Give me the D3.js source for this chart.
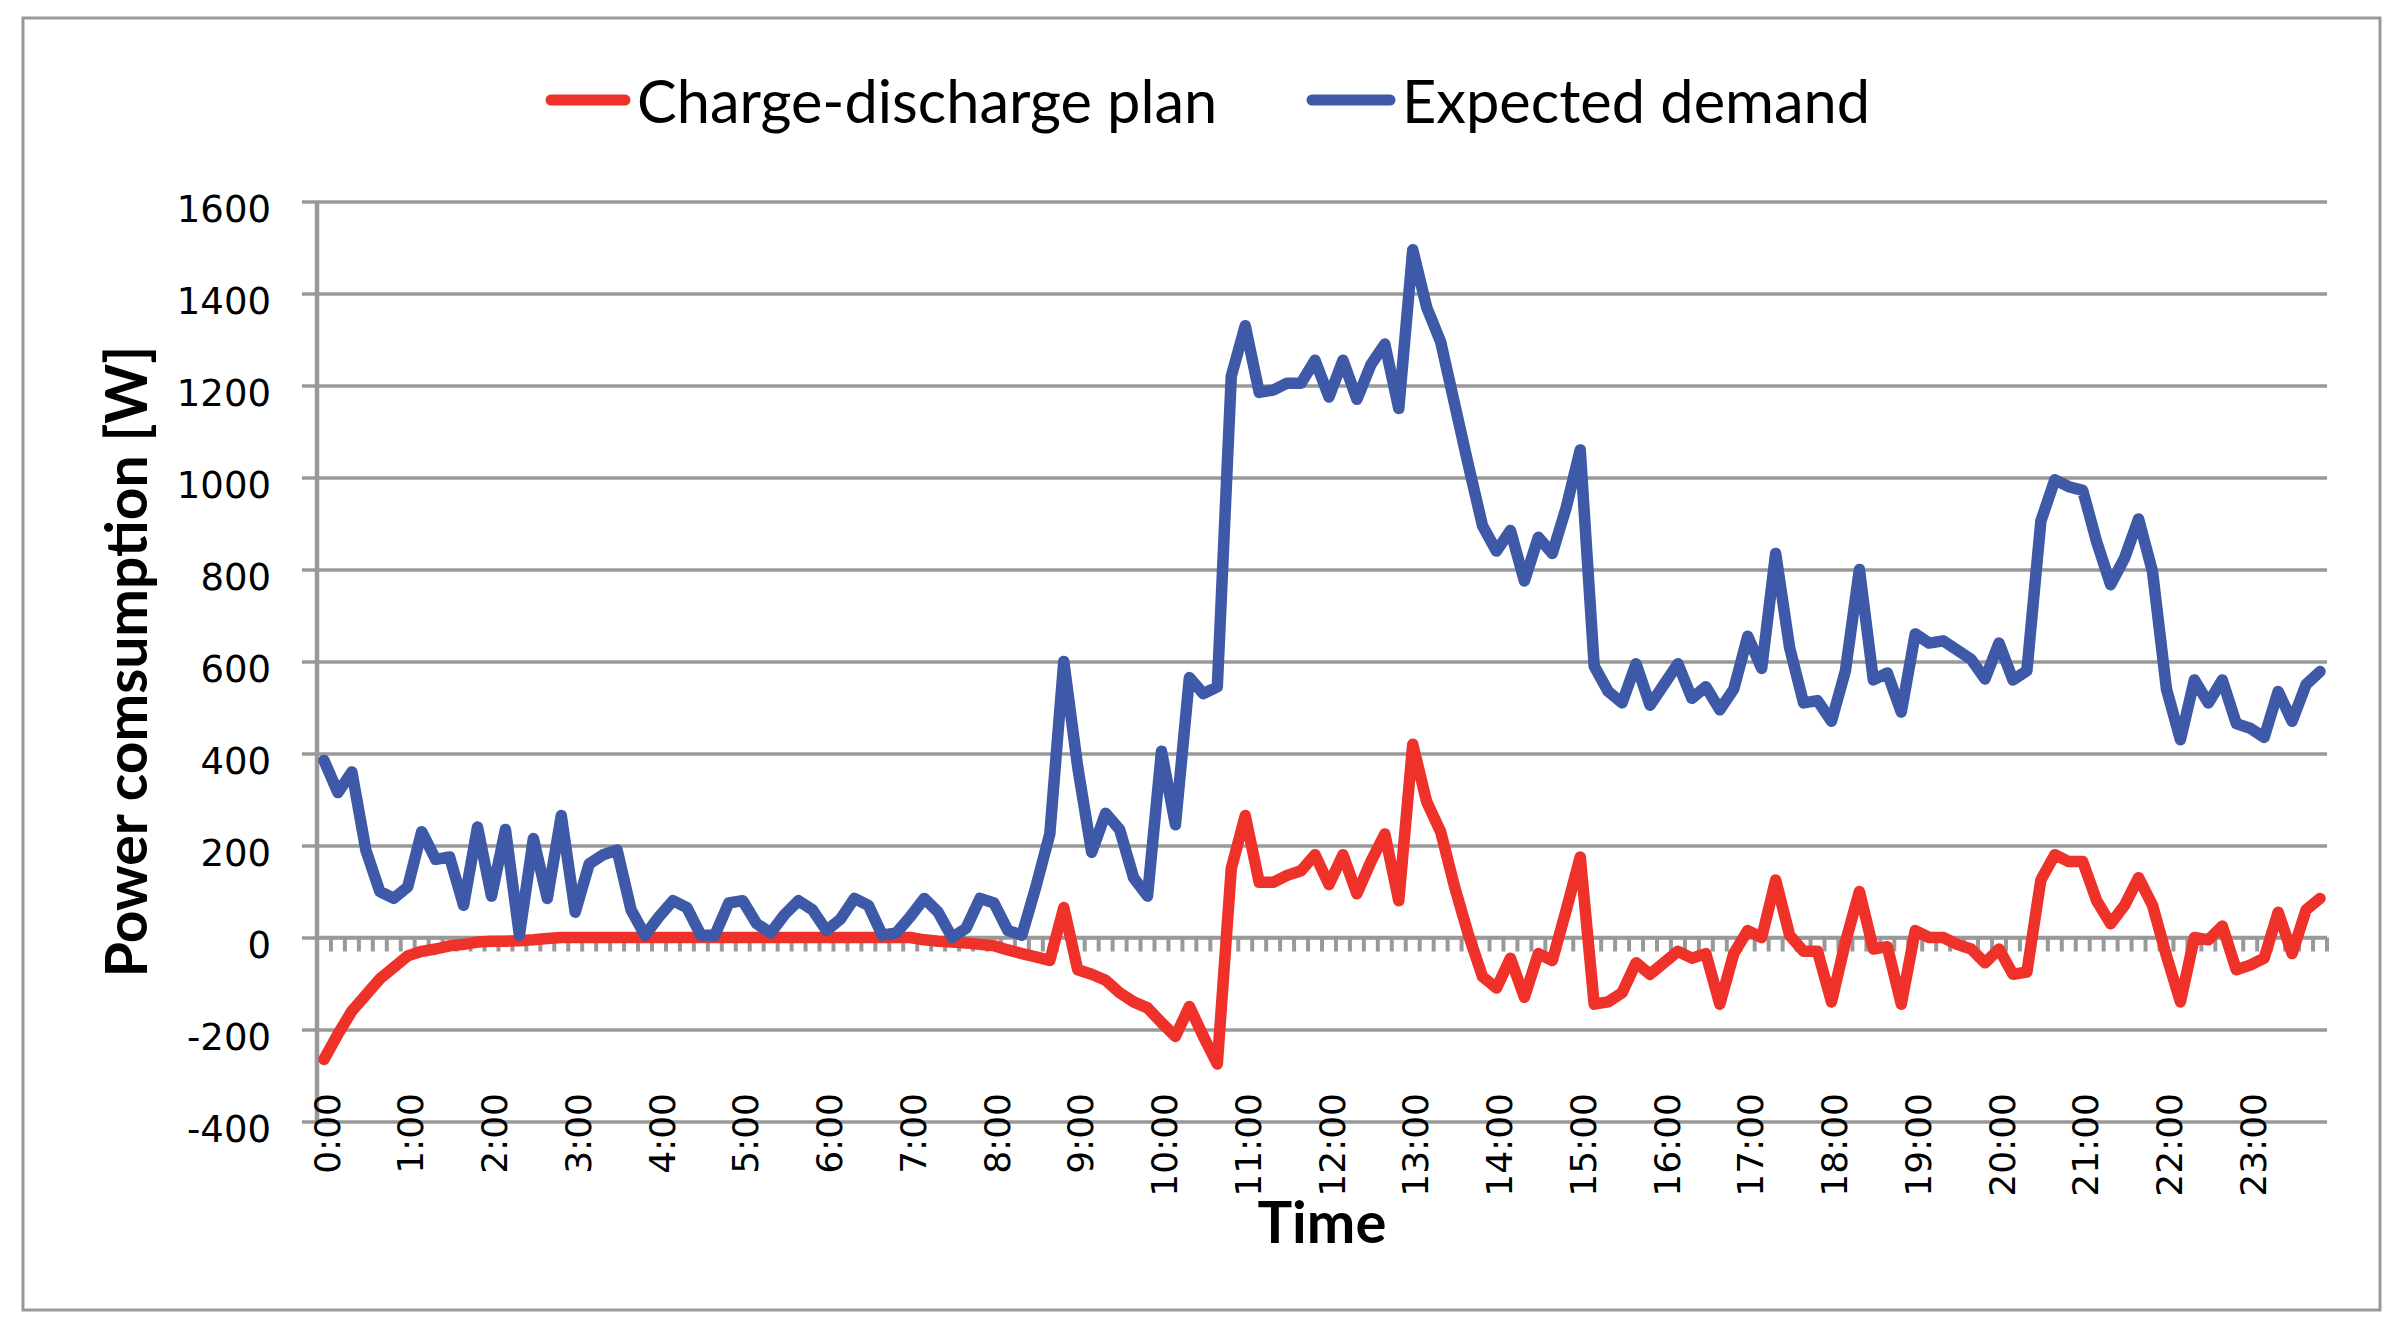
<!DOCTYPE html>
<html>
<head>
<meta charset="utf-8">
<script src="https://cdn.jsdelivr.net/npm/d3@7"></script>
<style>
  html, body { margin: 0; padding: 0; background: #fff; }
  svg { display: block; }
</style>
</head>
<body>
<svg id="chart" width="2406" height="1335"></svg>
<script>
// ---------------- data ----------------
const times = d3.range(144).map(i => `${Math.floor(i / 6)}:${String((i % 6) * 10).padStart(2, "0")}`);

const hourLabels = ["0:00","1:00","2:00","3:00","4:00","5:00","6:00","7:00","8:00","9:00","10:00","11:00",
  "12:00","13:00","14:00","15:00","16:00","17:00","18:00","19:00","20:00","21:00","22:00","23:00"];

const yTicks = [-400, -200, 0, 200, 400, 600, 800, 1000, 1200, 1400, 1600];

const seriesNames = ["Charge-discharge plan", "Expected demand"];

const chargePlan = [
  -265, -210, -160, -125, -90, -65, -40, -30, -25, -18, -15, -10,
  -8, -8, -7, -5, -2, 0, 0, 0, 0, 0, 0, 0,
  0, 0, 0, 0, 0, 0, 0, 0, 0, 0, 0, 0,
  0, 0, 0, 0, 0, 0, 0, -5, -8, -10, -12, -15,
  -18, -27, -35, -42, -50, 65, -70, -80, -93, -120, -140, -153,
  -185, -215, -150, -215, -275, 150, 265, 120, 120, 135, 145, 180,
  115, 180, 95, 165, 225, 80, 420, 295, 230, 110, 5, -85,
  -110, -45, -130, -35, -50, 60, 175, -145, -140, -120, -55, -80,
  -55, -30, -45, -35, -145, -35, 15, 0, 125, 5, -30, -30,
  -140, -10, 100, -25, -20, -145, 15, 0, 0, -15, -25, -55,
  -25, -80, -75, 125, 180, 165, 165, 80, 30, 70, 130, 70,
  -40, -140, 0, -5, 25, -70, -60, -45, 55, -35, 60, 85
];

const expectedDemand = [
  385, 315, 360, 190, 100, 85, 110, 230, 170, 175, 70, 240,
  90, 235, 5, 215, 85, 265, 55, 160, 180, 190, 60, 5,
  45, 80, 65, 5, 5, 75, 80, 30, 10, 50, 80, 60,
  15, 40, 85, 70, 5, 10, 45, 85, 55, 0, 20, 85,
  75, 15, 5, 110, 225, 600, 370, 185, 270, 235, 130, 90,
  405, 245, 565, 530, 545, 1220, 1330, 1185, 1190, 1205, 1205, 1255,
  1175, 1255, 1170, 1245, 1290, 1150, 1495, 1370, 1295, 1160, 1025, 895,
  840, 885, 775, 870, 835, 935, 1060, 590, 535, 510, 595, 505,
  550, 595, 520, 545, 495, 540, 655, 585, 835, 630, 510, 515,
  470, 580, 800, 560, 575, 490, 660, 640, 645, 625, 605, 562,
  640, 560, 580, 905, 995, 980, 972, 860, 767, 825, 910, 795,
  540, 430, 560, 510, 560, 465, 455, 435, 535, 470, 550, 578
];

// ---------------- layout ----------------
const W = 2406, H = 1335;
const pL = 317, pR = 2327, pT = 201.5, pB = 1121.5;
const grey = "#999999";
const red = "#EE3129", blue = "#3D59A7";

const svg = d3.select("#chart");
svg.append("rect").attr("x", 0).attr("y", 0).attr("width", W).attr("height", H).attr("fill", "#fff");
svg.append("rect").attr("x", 23).attr("y", 18).attr("width", 2357).attr("height", 1292)
  .attr("fill", "none").attr("stroke", grey).attr("stroke-width", 3);

const x = d3.scalePoint().domain(times).range([pL, pR]).padding(0.5);
const y = d3.scaleLinear().domain([-400, 1600]).range([pB, pT]);

// gridlines + y tick labels
const yAxis = svg.append("g").attr("transform", `translate(${pL},0)`)
  .call(d3.axisLeft(y).tickValues(yTicks).tickFormat(d => String(d))
    .tickSizeInner(-(pR - pL)).tickSizeOuter(0).tickPadding(46));
yAxis.select(".domain").remove();
yAxis.selectAll(".tick line").attr("x1", -15).attr("stroke", grey).attr("stroke-width", 3.5);
yAxis.selectAll(".tick text")
  .attr("font-family", "'DejaVu Sans', Verdana, sans-serif").attr("font-size", 37)
  .attr("fill", "#000").attr("dy", "0.53em");

// vertical axis line
svg.append("line").attr("x1", pL).attr("x2", pL).attr("y1", pT).attr("y2", pB)
  .attr("stroke", grey).attr("stroke-width", 4.5);

// category axis at zero with tick marks at category boundaries
const step = x.step();
const y0 = y(0);
svg.append("line").attr("x1", pL).attr("x2", pR).attr("y1", y0).attr("y2", y0)
  .attr("stroke", grey).attr("stroke-width", 3.5);
svg.append("g").selectAll("line").data(d3.range(times.length + 1)).join("line")
  .attr("x1", k => pL + k * step).attr("x2", k => pL + k * step)
  .attr("y1", y0).attr("y2", y0 + 14)
  .attr("stroke", grey).attr("stroke-width", 4);

// x tick labels (rotated)
const xAxis = svg.append("g").attr("transform", `translate(0,1093)`)
  .call(d3.axisBottom(x).tickValues(hourLabels).tickSize(0));
xAxis.select(".domain").remove();
xAxis.selectAll(".tick text")
  .attr("font-family", "'DejaVu Sans', Verdana, sans-serif").attr("font-size", 36).attr("fill", "#000")
  .attr("transform", "rotate(-90)").attr("text-anchor", "end")
  .attr("x", 0).attr("y", 0).attr("dy", "0.42em");

// lines
const line = d3.line().x((d, i) => x(times[i])).y(d => y(d));
[[chargePlan, red], [expectedDemand, blue]].forEach(([vals, c]) => {
  svg.append("path").datum(vals).attr("d", line)
    .attr("fill", "none").attr("stroke", c).attr("stroke-width", 11.5)
    .attr("stroke-linejoin", "round").attr("stroke-linecap", "round");
});

// axis titles
svg.append("text").attr("transform", `translate(147,${(pT + pB) / 2}) rotate(-90)`)
  .attr("text-anchor", "middle").attr("font-family", "Lato, 'Noto Sans', sans-serif")
  .attr("font-weight", "bold").attr("font-size", 57).attr("fill", "#000")
  .text("Power comsumption [W]");
svg.append("text").attr("x", (pL + pR) / 2).attr("y", 1243)
  .attr("text-anchor", "middle").attr("font-family", "Lato, 'Noto Sans', sans-serif")
  .attr("font-weight", "bold").attr("font-size", 58).attr("fill", "#000")
  .text("Time");

// legend
const legendItems = [
  { name: seriesNames[0], color: red, x0: 551, x1: 625, tx: 637 },
  { name: seriesNames[1], color: blue, x0: 1312, x1: 1390, tx: 1402 }
];
const lg = svg.append("g");
legendItems.forEach(it => {
  lg.append("line").attr("x1", it.x0).attr("x2", it.x1).attr("y1", 100).attr("y2", 100)
    .attr("stroke", it.color).attr("stroke-width", 11).attr("stroke-linecap", "round");
  lg.append("text").attr("x", it.tx).attr("y", 123)
    .attr("font-family", "Lato, 'Noto Sans', sans-serif").attr("font-size", 59.5).attr("fill", "#000")
    .text(it.name);
});
</script>
</body>
</html>
